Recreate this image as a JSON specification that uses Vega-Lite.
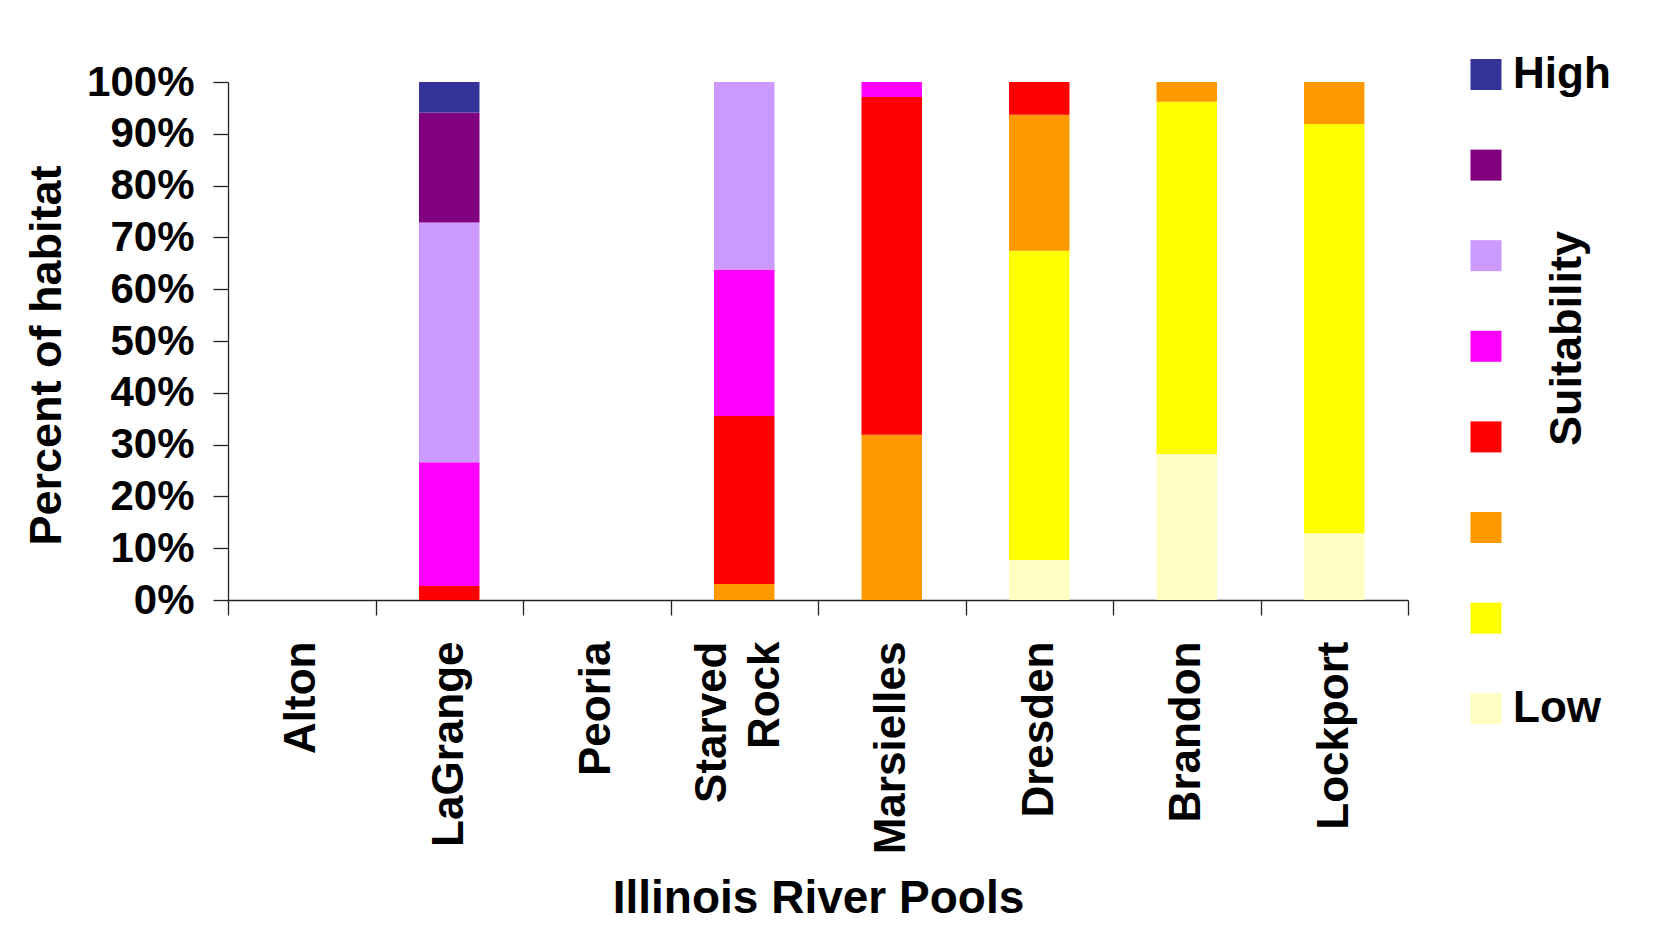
{
  "$schema": "https://vega.github.io/schema/vega-lite/v6.json",
  "width": 1180,
  "height": 518,
  "autosize": "none",
  "padding": {"left": 228, "top": 82, "right": 252, "bottom": 336},
  "background": "white",
  "config": {
    "view": {"stroke": null},
    "font": "Liberation Sans",
    "axis": {
      "labelFont": "Liberation Sans",
      "titleFont": "Liberation Sans",
      "labelFontWeight": "bold",
      "titleFontWeight": "bold",
      "labelColor": "#000000",
      "titleColor": "#000000",
      "domainColor": "#222222",
      "tickColor": "#222222",
      "domainWidth": 1.3,
      "tickWidth": 1.3,
      "grid": false
    }
  },
  "data": {
    "values": [
      {"pool": "LaGrange", "suitability": 4, "percent": 2.7},
      {"pool": "LaGrange", "suitability": 5, "percent": 23.9},
      {"pool": "LaGrange", "suitability": 6, "percent": 46.3},
      {"pool": "LaGrange", "suitability": 7, "percent": 21.2},
      {"pool": "LaGrange", "suitability": 8, "percent": 5.9},
      {"pool": "Starved Rock", "suitability": 3, "percent": 3.1},
      {"pool": "Starved Rock", "suitability": 4, "percent": 32.4},
      {"pool": "Starved Rock", "suitability": 5, "percent": 28.3},
      {"pool": "Starved Rock", "suitability": 6, "percent": 36.2},
      {"pool": "Marsielles", "suitability": 3, "percent": 31.9},
      {"pool": "Marsielles", "suitability": 4, "percent": 65.2},
      {"pool": "Marsielles", "suitability": 5, "percent": 2.9},
      {"pool": "Dresden", "suitability": 1, "percent": 7.7},
      {"pool": "Dresden", "suitability": 2, "percent": 59.7},
      {"pool": "Dresden", "suitability": 3, "percent": 26.3},
      {"pool": "Dresden", "suitability": 4, "percent": 6.3},
      {"pool": "Brandon", "suitability": 1, "percent": 28.2},
      {"pool": "Brandon", "suitability": 2, "percent": 68.0},
      {"pool": "Brandon", "suitability": 3, "percent": 3.8},
      {"pool": "Lockport", "suitability": 1, "percent": 12.9},
      {"pool": "Lockport", "suitability": 2, "percent": 79.0},
      {"pool": "Lockport", "suitability": 3, "percent": 8.1}
    ]
  },
  "layer": [
    {
      "mark": {"type": "bar", "width": {"band": 0.41}},
      "encoding": {
        "x": {
          "field": "pool",
          "type": "nominal",
          "sort": null,
          "scale": {
            "domain": ["Alton", "LaGrange", "Peoria", "Starved Rock", "Marsielles", "Dresden", "Brandon", "Lockport"],
            "paddingInner": 0,
            "paddingOuter": 0
          },
          "axis": {
            "title": "Illinois River Pools",
            "titleFontSize": 46,
            "titleY": 312,
            "titleBaseline": "alphabetic",
            "labelAngle": -90,
            "labelFontSize": 44,
            "labelPadding": 26,
            "labelLimit": 400,
            "labelLineHeight": 53.5,
            "labelOverlap": false,
            "labelExpr": "datum.value == 'Starved Rock' ? ['Starved', 'Rock'] : datum.value",
            "labelOffset": {"condition": {"test": "datum.value == 'Starved Rock'", "value": -32}, "value": 0},
            "tickSize": 15,
            "tickBand": "extent"
          }
        },
        "y": {
          "field": "percent",
          "type": "quantitative",
          "stack": "zero",
          "scale": {"domain": [0, 100], "nice": false},
          "axis": {
            "title": "Percent of habitat",
            "titleFontSize": 45,
            "titleAngle": -90,
            "titleX": -168,
            "titleY": 273,
            "titleAlign": "center",
            "titleBaseline": "alphabetic",
            "values": [0, 10, 20, 30, 40, 50, 60, 70, 80, 90, 100],
            "labelExpr": "datum.value + '%'",
            "labelFontSize": 42,
            "labelPadding": 19,
            "tickSize": 15
          }
        },
        "color": {
          "field": "suitability",
          "type": "ordinal",
          "scale": {
            "domain": [8, 7, 6, 5, 4, 3, 2, 1],
            "range": ["#333399", "#800080", "#CC99FF", "#FF00FF", "#FF0000", "#FF9900", "#FFFF00", "#FFFFC4"]
          },
          "legend": {
            "orient": "none",
            "legendX": 1236,
            "legendY": -29.5,
            "title": null,
            "padding": 0,
            "symbolType": "square",
            "symbolSize": 961,
            "symbolStrokeWidth": 0,
            "symbolOpacity": 1,
            "labelFont": "Liberation Sans",
            "labelFontSize": 44,
            "labelFontWeight": "bold",
            "labelColor": "#000000",
            "labelOffset": 5,
            "rowPadding": 46.6,
            "labelExpr": "datum.value == 8 ? 'High' : datum.value == 1 ? 'Low' : ''"
          }
        },
        "order": {"field": "suitability", "type": "quantitative", "sort": "ascending"}
      }
    },
    {
      "data": {"values": [{}]},
      "mark": {"type": "rule", "opacity": 0},
      "encoding": {
        "y": {
          "datum": 0,
          "type": "quantitative",
          "axis": {
            "orient": "right",
            "title": "Suitability",
            "titleFontSize": 45,
            "titleAngle": -90,
            "titleX": 172,
            "titleY": 256,
            "titleAlign": "center",
            "titleBaseline": "alphabetic",
            "labels": false,
            "ticks": false,
            "domain": false
          }
        }
      }
    }
  ],
  "resolve": {"axis": {"y": "independent"}}
}
